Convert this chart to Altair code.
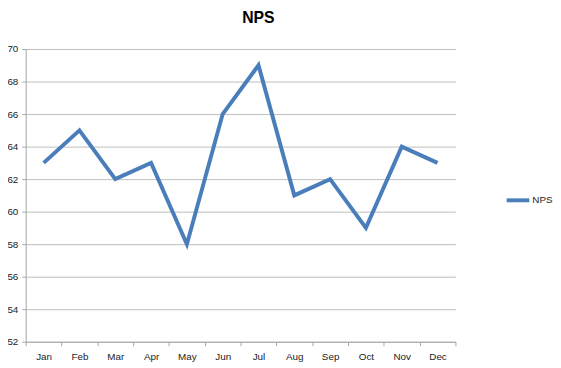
import altair as alt
import pandas as pd

months = ["Jan", "Feb", "Mar", "Apr", "May", "Jun", "Jul", "Aug", "Sep", "Oct", "Nov", "Dec"]
nps = [63, 65, 62, 63, 58, 66, 69, 61, 62, 59, 64, 63]
series = ["NPS"] * len(months)
y_ticks = [52, 54, 56, 58, 60, 62, 64, 66, 68, 70]

df = pd.DataFrame({"month": months, "value": nps, "series": series})

chart = alt.Chart(df).mark_line(strokeWidth=4, strokeJoin="miter").encode(
    x=alt.X("month:N", sort=months, title=None,
            scale=alt.Scale(paddingInner=0, paddingOuter=0),
            axis=alt.Axis(labelAngle=0, tickBand="extent", domainColor="#a6a6a6",
                          tickColor="#a6a6a6", tickSize=4, labelPadding=6,
                          labelFontSize=10, labelColor="#222222", grid=False,
                          labelFont="Liberation Sans")),
    y=alt.Y("value:Q", title=None,
            scale=alt.Scale(domain=[52, 70], nice=False, zero=False),
            axis=alt.Axis(values=y_ticks, domainColor="#a6a6a6", tickColor="#a6a6a6",
                          tickSize=4, gridColor="#bdbdbd", gridWidth=1, labelPadding=4,
                          labelFontSize=10, labelColor="#222222",
                          labelFont="Liberation Sans")),
    color=alt.Color("series:N", scale=alt.Scale(range=["#4a7ebb"]),
                    legend=alt.Legend(title=None, orient="none", legendX=486, legendY=140,
                                      symbolType="stroke", symbolSize=529,
                                      symbolStrokeWidth=4, labelFontSize=10,
                                      labelFont="Liberation Sans", labelColor="#222222",
                                      labelOffset=1)),
).properties(
    width=436,
    height=297,
    title=alt.TitleParams("NPS", fontSize=16, font="Liberation Sans", fontWeight="bold",
                          anchor="middle", dx=18, offset=18, color="#000000"),
    autosize=alt.AutoSizeParams(type="none"),
    padding={"left": 18, "top": 39, "right": 99, "bottom": 24},
).configure_view(stroke=None)

chart.save("out.html", embed_options={"renderer": "svg", "actions": False})
